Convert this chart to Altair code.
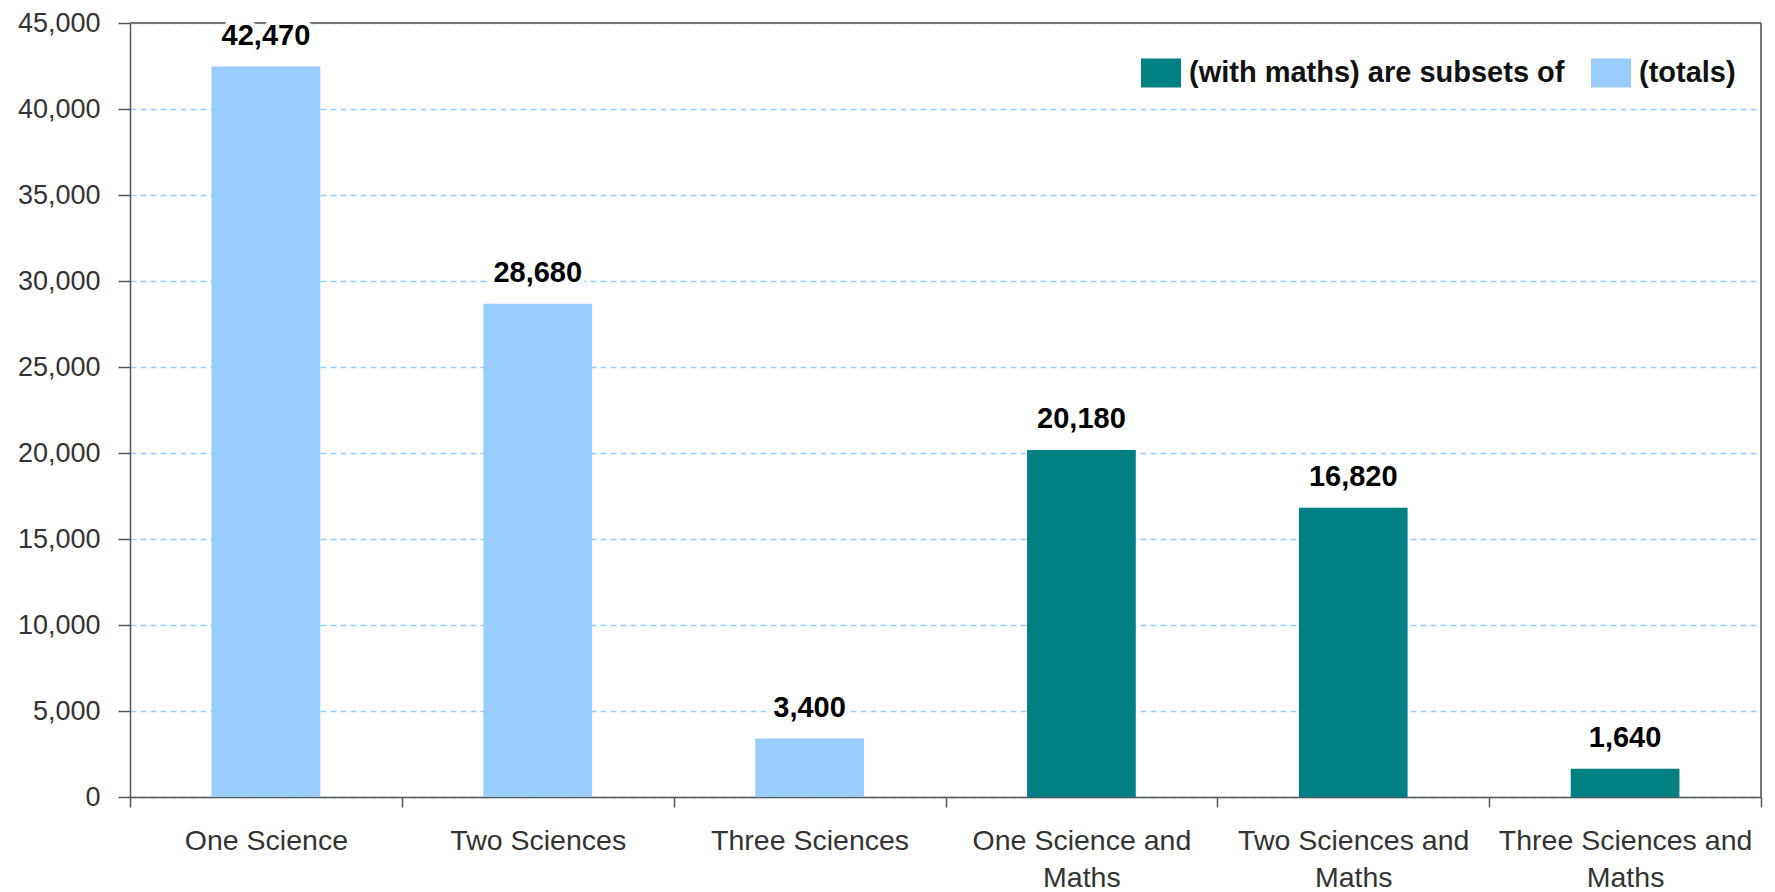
import altair as alt
import pandas as pd

# Students by number of sciences taken, with the "and maths" subsets
categories = [
    "One Science",
    "Two Sciences",
    "Three Sciences",
    "One Science and Maths",
    "Two Sciences and Maths",
    "Three Sciences and Maths",
]
values = [42470, 28680, 3400, 20180, 16820, 1640]
series = ["(totals)"] * 3 + ["(with maths) are subsets of"] * 3

series_order = ["(with maths) are subsets of", "(totals)"]
series_colors = ["#008080", "#99CCFF"]

df = pd.DataFrame({"category": categories, "value": values, "series": series})

FONT = "Liberation Sans"
W, H = 1631, 774

x_axis = alt.Axis(
    labelAngle=0,
    labelFontSize=28.5,
    labelFont=FONT,
    labelColor="#333333",
    labelPadding=19,
    labelLineHeight=37,
    labelLimit=400,
    labelExpr="indexof(datum.label, ' and Maths') > 0 ? [replace(datum.label, ' Maths', ''), 'Maths'] : datum.label",
    tickBand="extent",
    tickSize=10,
    tickColor="#555555",
    tickWidth=1.5,
    domainColor="#555555",
    domainWidth=1.5,
    grid=False,
)
x_scale = alt.Scale(paddingInner=0, paddingOuter=0)
x_enc = alt.X("category:N", sort=categories, title=None, scale=x_scale, axis=x_axis)

y_axis = alt.Axis(
    values=list(range(0, 45001, 5000)),
    labelExpr="format(datum.value, ',')",
    labelFontSize=27,
    labelFont=FONT,
    labelColor="#333333",
    labelPadding=18,
    tickSize=12,
    tickColor="#555555",
    tickWidth=1.5,
    domainColor="#555555",
    domainWidth=1.5,
    grid=True,
    gridColor="#99CCFF",
    gridDash=[6, 4],
    gridWidth=1.5,
)
y_scale = alt.Scale(domain=[0, 45000], nice=False)
y_enc = alt.Y("value:Q", title=None, scale=y_scale, axis=y_axis)

base = alt.Chart(df)

bars = base.mark_bar(width=alt.RelativeBandSize(0.4)).encode(
    x=x_enc,
    y=y_enc,
    color=alt.Color(
        "series:N",
        scale=alt.Scale(domain=series_order, range=series_colors),
        legend=alt.Legend(
            title=None,
            orient="none",
            legendX=1011,
            legendY=30,
            direction="horizontal",
            padding=0,
            labelFont=FONT,
            labelFontSize=29,
            labelFontWeight="bold",
            labelColor="#111111",
            labelLimit=600,
            labelOffset=8,
            columnPadding=26,
            symbolType="M-1,-0.72H1V0.72H-1Z",
            symbolSize=1600,
            symbolStrokeWidth=0,
            symbolOpacity=1,
        ),
    ),
)

# Frame: top and right edges of the plot area
frame_top = alt.Chart(df).mark_rule(color="#777777", strokeWidth=1.5).encode(
    y=alt.value(0)
)
frame_right = alt.Chart(df).mark_rule(color="#777777", strokeWidth=1.5).encode(
    x=alt.value(W)
)

# Value labels: a white halo keeps gridlines from running through the digits
text_style = dict(font=FONT, fontSize=29, fontWeight="bold", baseline="middle", dy=-31)
text_enc = dict(
    x=x_enc,
    y=y_enc,
    text=alt.Text("value:Q", format=","),
)
halo = base.mark_text(
    color="white", stroke="white", strokeWidth=10, strokeJoin="round", **text_style
).encode(**text_enc)
labels = base.mark_text(color="#000000", **text_style).encode(**text_enc)

chart = (
    alt.layer(bars, frame_top, frame_right, halo, labels)
    .properties(
        width=W,
        height=H,
        autosize=alt.AutoSizeParams(type="none"),
        padding={"left": 130, "top": 23, "right": 14, "bottom": 95},
    )
    .configure_view(stroke=None)
    .configure(background="white")
)

chart.save("out.html", embed_options={"renderer": "svg", "actions": False})
